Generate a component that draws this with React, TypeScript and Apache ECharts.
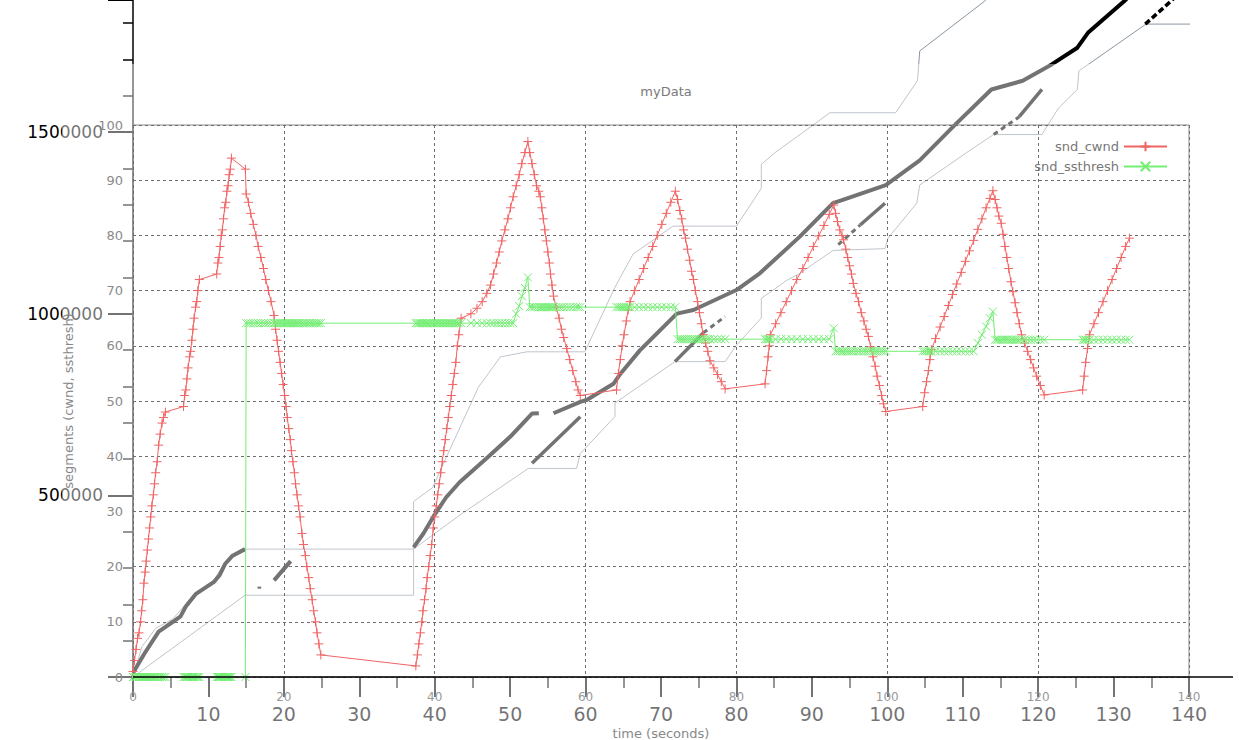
import React, { useEffect, useRef } from "react";
import * as echarts from "echarts";

// ---------- Chart A (gnuplot): samples [time s, snd_cwnd, snd_ssthresh] ----------
const rampA1 = [[0,1,0],[0.2,3,0],[0.4,5,0],[0.6,7,0],[0.8,8,0],[1.0,10,0],[1.15,12,0],[1.3,14,0],[1.45,17,0],[1.6,19,0],[1.75,21,0],[1.9,23,0],[2.05,25,0],[2.2,27,0],[2.35,29,0],[2.5,31,0],[2.7,33,0],[2.85,35,0],[3.0,37,0],[3.2,39,0],[3.4,42,0],[3.6,44,0],[3.85,46,0],[4.05,47,0],[4.3,48,0]];
const rampA2 = [[6.7,49,0],[6.85,51,0],[7.0,52,0],[7.15,54,0],[7.3,56,0],[7.5,58,0],[7.65,59,0],[7.8,61,0],[7.95,63,0],[8.1,65,0],[8.3,67,0],[8.45,68,0],[8.6,70,0],[8.8,72,0]];
const rampA3 = [[11.1,73,0],[11.25,75,0],[11.4,76,0],[11.55,78,0],[11.7,80,0],[11.85,81,0],[12.0,83,0],[12.15,85,0],[12.3,86,0],[12.45,88,0],[12.6,89,0],[12.75,91,0],[12.9,92,0],[13.05,94,0]];
const dropA = [[14.9,92,0],[15.0,87.5,64.1],[15.3,86,64.1],[15.6,84,64.1],[15.95,82,64.1],[16.3,80,64.1],[16.6,78,64.1],[16.95,76,64.1],[17.3,74,64.1],[17.6,72,64.1],[17.95,70,64.1],[18.3,68,64.1],[18.7,65.5,64.1],[18.9,63,64.1],[19.1,61,64.1],[19.3,59,64.1],[19.5,57,64.1],[19.7,55,64.1],[19.9,53,64.1],[20.1,51,64.1],[20.3,49,64.1],[20.45,47,64.1],[20.65,45,64.1],[20.85,43,64.1],[21.0,41,64.1],[21.2,39,64.1],[21.4,37,64.1],[21.55,35,64.1],[21.75,33,64.1],[21.95,31,64.1],[22.15,29,64.1],[22.4,26,64.1],[22.6,24,64.1],[22.85,22,64.1],[23.05,20,64.1],[23.3,18,64.1],[23.5,16,64.1],[23.75,14,64.1],[23.95,12,64.1],[24.2,10,64.1],[24.4,8,64.1],[24.65,6,64.1],[24.9,4,64.1]];
const rampB = [[37.5,2,64.1],[37.7,4,64.1],[37.9,6,64.1],[38.1,8,64.1],[38.3,10,64.1],[38.45,12,64.1],[38.65,14,64.1],[38.85,16,64.1],[39.0,18,64.1],[39.2,20,64.1],[39.4,22,64.1],[39.6,24,64.1],[39.8,27,64.1],[40.0,29,64.1],[40.2,31,64.1],[40.4,33,64.1],[40.6,35,64.1],[40.8,37,64.1],[41.0,39,64.1],[41.2,41,64.1],[41.4,43,64.1],[41.6,45,64.1],[41.8,47,64.1],[42.0,49,64.1],[42.2,51,64.1],[42.4,53,64.1],[42.6,55,64.1],[42.8,57,64.1],[43.0,60,64.1],[43.2,62,64.1],[43.5,65,64.1],
  [44.8,65.8,64.1],[45.6,66.8,64.1],[46.3,68,64.1],[46.9,69.5,64.1],[47.4,71,64.1],
  [47.8,73,64.1],[48.2,75,64.1],[48.55,77,64.1],[48.9,79,64.1],[49.3,81,64.1],[49.7,83,64.1],[50.05,85,64.1],[50.4,87,64.1],[50.8,89,65.8],[51.2,91,67.2],[51.55,93,69],[51.95,95,70.5],[52.35,97,72.4]];
const dropB = [[52.6,95,67],[52.9,93,67],[53.2,91,67],[53.5,89,67],[53.8,88,67],[54.0,87,67],[54.2,85,67],[54.4,83,67],[54.6,81,67],[54.8,79,67],[55.0,77,67],[55.2,75,67],[55.35,73,67],[55.55,71,67],[55.75,69,67],[56.1,67,67],[56.5,65,67],[56.8,63,67],[57.1,61.5,67],[57.5,59.5,67],[57.9,57.5,67],[58.3,55.5,67],[58.7,53.5,67],[59.0,52,67],[59.3,51,67]];
const rampC = [[64.1,52,67],[64.35,55,67],[64.6,57.5,67],[64.85,60,67],[65.1,62,67],[65.4,64.5,67],[65.65,66.5,67],[65.9,68,67],[66.5,70,67],[67.1,72,67],[67.7,74,67],[68.3,76,67],[68.9,78,67],[69.5,80,67],[70.1,82,67],[70.7,84,67],[71.3,86,67],[71.9,88,67]];
const dropC = [[72.2,86.5,61.2],[72.5,84.5,61.2],[72.75,83,61.2],[73.0,81,61.2],[73.25,79.5,61.2],[73.5,77.5,61.2],[73.8,75.5,61.2],[74.05,73.5,61.2],[74.3,72,61.2],[74.55,70,61.2],[74.85,68,61.2],[75.1,66,61.2],[75.35,64,61.2],[75.6,62,61.2],[75.9,60.5,61.2],[76.2,59,61.2],[76.5,57.3,61.2],[77.0,56,61.2],[77.5,54.8,61.2],[78.0,53.5,61.2],[78.5,52.2,61.2]];
const rampD = [[83.8,53.1,61.2],[84.0,55.5,61.2],[84.2,58,61.2],[84.35,60,61.2],[84.5,62,61.2],[85.2,64,61.2],[85.9,66,61.2],[86.6,68,61.2],[87.3,70,61.2],[88.0,72,61.2],[88.8,74,61.2],[89.5,76,61.2],[90.2,78,61.2],[90.9,79.9,61.2],[91.6,81.8,61.2],[92.3,83.8,61.2],[92.9,85.5,63.2]];
const dropD = [[93.15,84,59],[93.4,82.5,59],[93.7,81,59],[94.0,80,59],[94.2,79.2,59],[94.5,77.5,59],[94.75,76,59],[95.0,74.5,59],[95.25,73,59],[95.5,71.3,59],[95.85,69.5,59],[96.2,68,59],[96.55,66,59],[96.9,64.5,59],[97.2,63,59],[97.5,61.7,59],[97.8,59.8,59],[98.1,58,59],[98.4,56.3,59],[98.65,54.5,59],[98.95,52.8,59],[99.25,51,59],[99.5,49.5,59],[99.8,48.1,59]];
const rampE = [[104.7,49,59],[104.95,51.5,59],[105.2,53.5,59],[105.45,55.5,59],[105.65,57.5,59],[105.85,59.3,59],[106.4,61.3,59],[107.0,63.4,59],[107.55,65.3,59],[108.1,67.3,59],[108.65,69.3,59],[109.2,71.2,59],[109.8,73.3,59],[110.35,75.3,59],[110.9,77.2,59],[111.45,79.1,59],[112.0,81.1,60.5],[112.55,83,62],[113.1,85,63.5],[113.6,86.7,65],[114.0,88.1,66.2]];
const dropE = [[114.3,86.5,61.1],[114.55,85,61.1],[114.8,83.5,61.1],[115.1,82.2,61.1],[115.35,80.2,61.1],[115.6,78,61.1],[115.85,76,61.1],[116.1,74,61.1],[116.4,71.6,61.1],[116.65,69.8,61.1],[116.95,67.8,61.1],[117.2,66,61.1],[117.5,64,61.1],[117.8,62,61.1],[118.2,60.5,61.1],[118.6,59,61.1],[119.0,57.5,61.1],[119.4,56,61.1],[119.8,54.5,61.1],[120.3,52.8,61.1],[120.8,51.1,61.1]];
const rampF = [[125.9,52,61.1],[126.1,54.5,61.1],[126.3,57,61.1],[126.55,59.5,61.1],[126.8,62,61.1],[127.4,64,61.1],[128.0,66,61.1],[128.6,68,61.1],[129.2,70,61.1],[129.8,72,61.1],[130.4,74,61.1],[131.0,76,61.1],[131.6,78,61.1],[132.1,79.5,61.1]];

const gnuplotSamples = [...rampA1, ...rampA2, ...rampA3, ...dropA, ...rampB, ...dropB, ...rampC, ...dropC, ...rampD, ...dropD, ...rampE, ...dropE, ...rampF];

const gnuplotXTicks = { min: 0, max: 140, step: 20 };
const gnuplotYTicks = { min: 0, max: 100, step: 10 };

// ---------- Chart B (time-sequence graph, bytes) ----------
const seqMain1 = [[0,11000],[1.5,64000],[3.4,125000],[5.3,152000],[6.3,167000],[7.0,194000],[8.3,228000],[10.7,261000],[11.5,281000],[12.2,311000],[13.2,334000],[14.85,352000]];
const seqBit1 = [[16.5,246000],[17.0,246000]];
const seqBit2 = [[18.7,266000],[20.9,319000]];
const seqMain2 = [[37.2,357000],[38.5,395000],[39.9,444000],[41.5,494000],[43.3,536000],[47.1,606000],[50,661000],[52.9,725000],[53.8,726000]];
const seqMain3 = [[55.75,726000],[59.3,757000],[60.2,763000],[63.7,807000],[64.6,834000],[67.2,899000],[72.1,1000000],[74.3,1010000],[80,1065000],[83.1,1111000],[88.4,1212000],[92.8,1304000],[94.2,1314000],[99.8,1354000],[104.3,1422000],[108.8,1516000],[113.8,1617000],[117.95,1641000],[121.8,1686000],[125.2,1732000],[126.6,1773000],[131.4,1860000],[133,1892000]];
const retrans1 = [[52.9,588000],[59.3,716000]];
const retrans2 = [[71.85,868000],[75.6,947000]];
const retrans2d = [[75.6,947000],[78.5,992000]];
const retrans3d = [[93.5,1190000],[96.4,1244000]];
const retrans3 = [[96.4,1244000],[99.7,1304000]];
const retrans4d = [[114.1,1493000],[117.5,1542000]];
const retrans4 = [[117.5,1542000],[120.5,1617000]];
const retrans5d = [[134.2,1797000],[137.6,1860000],[138.5,1878000]];
const ackLine = [[0,0],[14.85,225000],[37.2,225000],[37.2,352000],[40,395000],[43.5,448000],[52.4,574000],[58.8,574000],[59.3,615000],[63.9,717000],[63.9,754000],[71.85,868000],[78.5,868000],[80,913000],[83.3,988000],[83.3,1042000],[86.7,1092000],[88.4,1111000],[92.8,1174000],[99.7,1179000],[100.1,1208000],[103.9,1304000],[104.3,1354000],[110.5,1443000],[114.1,1493000],[120.5,1493000],[122.7,1566000],[125.2,1617000],[125.4,1668000],[134.3,1797000],[141.2,1797000],[142.5,1846000],[143.5,1876000]];
const windowLine = [[0,0],[1.2,84000],[3.0,134000],[5.3,160000],[8.3,232000],[10.7,266000],[12.2,316000],[14.85,352000],[37.2,352000],[37.2,483000],[39.7,521000],[43.5,694000],[45.8,798000],[48.7,881000],[52.2,895000],[59.9,895000],[63.9,1073000],[66.3,1164000],[71.6,1241000],[80,1241000],[83.3,1345000],[83.3,1411000],[85.1,1443000],[92.4,1553000],[101.1,1553000],[104,1641000],[104.3,1723000],[112.9,1860000],[114,1884000]];

const seqXTicks = { min: 0, max: 140, major: 10, minor: 5 };
const seqYTicks = { min: 0, max: 1863300, major: 500000, minor: 100000 };

const FONT = "DejaVu Sans";
const RED = "#f06464";
const GREEN = "#74ee74";
const THIN = "#8a96a2";

export default function App() {
  const ref = useRef<HTMLDivElement>(null);
  useEffect(() => {
    const chart = echarts.init(ref.current!, null, { renderer: "svg" });
    const gridB = { left: 133, top: 0, width: 1056, height: 677, containLabel: false, outerBoundsMode: "none" };
    const seqSeries = (data: number[][], opts: any) => ({
      type: "line", xAxisIndex: 1, yAxisIndex: 1, data, symbol: "none", clip: false, silent: true, z: 2,
      lineStyle: opts, animation: false,
    });
    const option: any = {
      animation: false,
      textStyle: { fontFamily: FONT },
      title: {
        text: "myData", left: 661, top: 80, textAlign: "center",
        textStyle: { fontSize: 13, color: "#7a7a7a", fontWeight: "normal", fontFamily: FONT },
      },
      legend: {
        data: ["snd_cwnd", "snd_ssthresh"], orient: "vertical", right: 66, top: 135, align: "right",
        itemWidth: 43, itemHeight: 12, itemGap: 7, z: 8,
        textStyle: { color: "#777", fontSize: 13, fontFamily: FONT },
      },
      grid: [
        { left: 133, top: 125, width: 1056, height: 552, show: true, borderColor: "#8a8a8a", borderWidth: 1, z: 4, containLabel: false, outerBoundsMode: "none" },
        { ...gridB },
        { ...gridB },
      ],
      xAxis: [
        {
          gridIndex: 0, type: "value", min: gnuplotXTicks.min, max: gnuplotXTicks.max, interval: gnuplotXTicks.step, z: 4,
          axisLine: { show: false }, axisTick: { show: false },
          splitLine: { show: true, lineStyle: { color: "#6e6e6e", type: [3, 3], width: 1 } },
          axisLabel: { color: "#999", fontSize: 12, margin: 14, fontFamily: FONT },
          name: "time (seconds)", nameLocation: "middle", nameGap: 50,
          nameTextStyle: { color: "#888", fontSize: 13, fontFamily: FONT },
        },
        {
          gridIndex: 1, type: "value", min: seqXTicks.min, max: seqXTicks.max, interval: seqXTicks.major, z: 1,
          axisLine: { show: false },
          axisTick: { show: true, length: 20, lineStyle: { color: "#000", width: 2 } },
          axisLabel: { margin: 27, fontSize: 19, color: "#000", fontFamily: FONT, formatter: (v: number) => (v > 0 && v % 10 === 0 ? String(v) : "") },
          splitLine: { show: false },
        },
        {
          gridIndex: 2, type: "value", min: seqXTicks.min, max: seqXTicks.max, interval: seqXTicks.minor, z: 1,
          axisLine: { show: false }, axisLabel: { show: false }, splitLine: { show: false },
          axisTick: { show: true, length: 11, lineStyle: { color: "#000", width: 1.5 } },
        },
      ],
      yAxis: [
        {
          gridIndex: 0, type: "value", min: gnuplotYTicks.min, max: gnuplotYTicks.max, interval: gnuplotYTicks.step, z: 4,
          axisLine: { show: false }, axisTick: { show: false },
          splitLine: { show: true, lineStyle: { color: "#6e6e6e", type: [3, 3], width: 1 } },
          axisLabel: { color: "#8a8a8a", fontSize: 13, margin: 10, fontFamily: FONT },
          name: "segments (cwnd, ssthresh)", nameLocation: "middle", nameGap: 58, nameRotate: 90,
          nameTextStyle: { color: "#888", fontSize: 13, fontFamily: FONT },
        },
        {
          gridIndex: 1, type: "value", min: seqYTicks.min, max: seqYTicks.max, interval: seqYTicks.major, offset: 2, z: 1,
          axisLine: { show: true, lineStyle: { color: "#000", width: 1.5 } },
          axisTick: { show: true, length: 25, lineStyle: { color: "#000", width: 2 } },
          axisLabel: { margin: 28, fontSize: 17, color: "#000", fontFamily: FONT, formatter: (v: number) => (v > 0 && v % 500000 === 0 ? String(v) : "") },
          splitLine: { show: false },
        },
        {
          gridIndex: 2, type: "value", min: seqYTicks.min, max: seqYTicks.max, interval: seqYTicks.minor, offset: 2, z: 1,
          axisLine: { show: false }, axisLabel: { show: false }, splitLine: { show: false },
          axisTick: { show: true, length: 10, lineStyle: { color: "#000", width: 1.5 } },
        },
      ],
      graphic: {
        elements: [
          { type: "rect", silent: true, z: 3, shape: { x: 62, y: 64, width: 1150, height: 676 }, style: { fill: "rgba(255,255,255,0.45)" } },
          { type: "line", silent: true, z: 10, shape: { x1: 133, y1: 677, x2: 1233, y2: 677 }, style: { stroke: "#000", lineWidth: 1.5 } },
        ],
      },
      series: [
        seqSeries(ackLine, { color: THIN, width: 1 }),
        seqSeries(windowLine, { color: THIN, width: 1 }),
        seqSeries(seqMain1, { color: "#000", width: 4 }),
        seqSeries(seqBit1, { color: "#000", width: 2 }),
        seqSeries(seqBit2, { color: "#000", width: 4 }),
        seqSeries(seqMain2, { color: "#000", width: 4 }),
        seqSeries(seqMain3, { color: "#000", width: 4 }),
        seqSeries(retrans1, { color: "#000", width: 3.5 }),
        seqSeries(retrans2, { color: "#000", width: 3.5 }),
        seqSeries(retrans2d, { color: "#000", width: 3, type: [5, 4] }),
        seqSeries(retrans3d, { color: "#000", width: 3, type: [5, 4] }),
        seqSeries(retrans3, { color: "#000", width: 3.5 }),
        seqSeries(retrans4d, { color: "#000", width: 3, type: [5, 4] }),
        seqSeries(retrans4, { color: "#000", width: 3.5 }),
        seqSeries(retrans5d, { color: "#000", width: 3.5, type: [6, 3] }),
        {
          name: "snd_cwnd", type: "line", xAxisIndex: 0, yAxisIndex: 0, z: 5, silent: true,
          data: gnuplotSamples.map((s) => [s[0], s[1]]),
          symbol: "path://M5 0L5 10M0 5L10 5", symbolSize: 9,
          itemStyle: { color: RED, borderColor: RED, borderWidth: 1 },
          lineStyle: { color: RED, width: 1 },
        },
        {
          name: "snd_ssthresh", type: "line", xAxisIndex: 0, yAxisIndex: 0, z: 5, silent: true,
          data: gnuplotSamples.map((s) => [s[0], s[2]]),
          symbol: "path://M0 0L10 10M10 0L0 10", symbolSize: 8,
          itemStyle: { color: GREEN, borderColor: GREEN, borderWidth: 1 },
          lineStyle: { color: GREEN, width: 1 },
        },
      ],
    };
    chart.setOption(option);
    return () => chart.dispose();
  }, []);
  return <div ref={ref} style={{ position: "fixed", left: 0, top: 0, width: 1239, height: 740, background: "#fff" }} />;
}
